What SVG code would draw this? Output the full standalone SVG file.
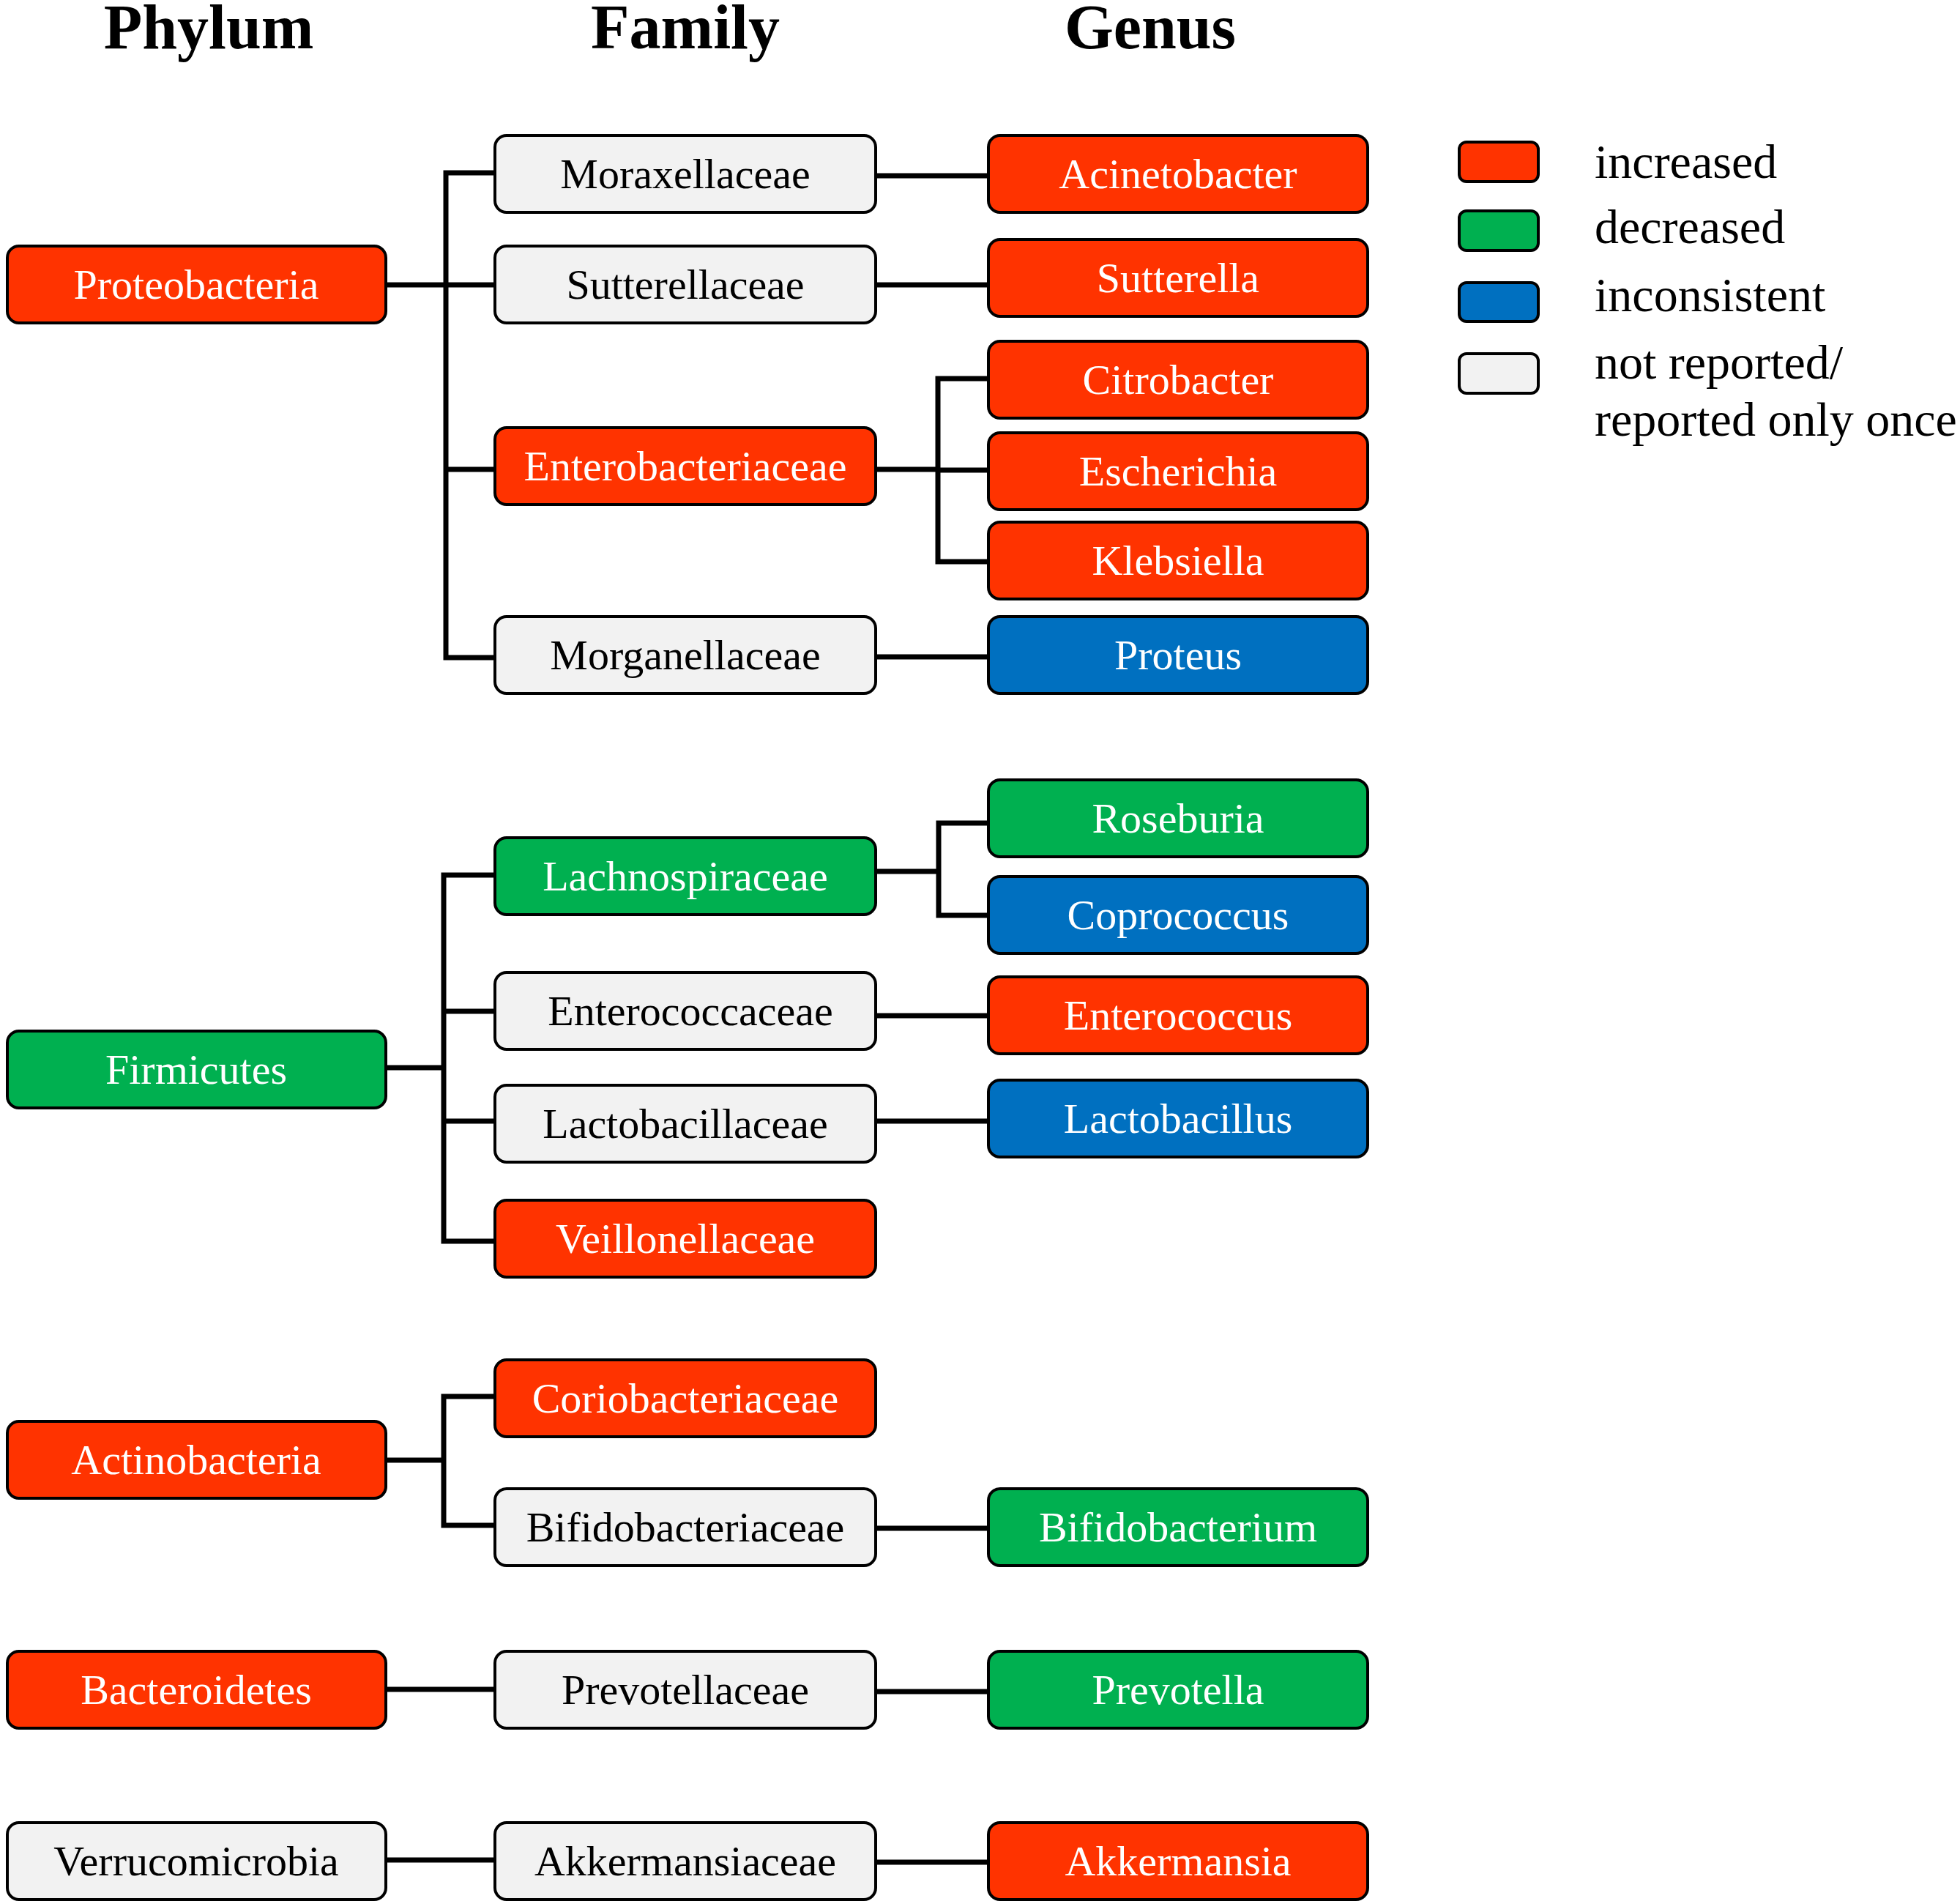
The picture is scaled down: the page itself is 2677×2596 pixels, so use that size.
<svg xmlns="http://www.w3.org/2000/svg" width="2677" height="2596" viewBox="0 0 2677 2596">
<style>
.b{stroke:#000;stroke-width:4}
.r{fill:#FF3300}.g{fill:#00B050}.u{fill:#0070C0}.n{fill:#F2F2F2}
text{font-family:"Liberation Serif","Times New Roman",serif}
.t{font-size:58px;text-anchor:middle}
.w{fill:#fff}.k{fill:#000}
.h{font-size:86px;font-weight:bold;text-anchor:middle}
.lg{font-size:66px}
.c{fill:none;stroke:#000;stroke-width:7;stroke-linejoin:miter}
</style>
<rect width="2677" height="2596" fill="#fff"/>
<g id="headers">
<text class="h" x="285" y="66">Phylum</text>
<text class="h" x="936" y="66">Family</text>
<text class="h" x="1571" y="66">Genus</text>
</g>
<g id="connectors">
<path class="c" d="M527,389H609M676,236H609V898H676M609,389H676M609,641H676"/>
<path class="c" d="M1196,240H1350M1196,389H1350M1196,897H1350"/>
<path class="c" d="M1196,641H1281M1350,517H1281V767H1350M1281,642H1350"/>
<path class="c" d="M527,1458H606M676,1195H606V1695H676M606,1381H676M606,1531H676"/>
<path class="c" d="M1196,1190H1282M1350,1124H1282V1250H1350"/>
<path class="c" d="M1196,1387H1350M1196,1531H1350"/>
<path class="c" d="M527,1994H606M676,1907H606V2083H676M1196,2087H1350"/>
<path class="c" d="M527,2307H676M1196,2310H1350"/>
<path class="c" d="M527,2540H676M1196,2543H1350"/>
</g>
<g id="n-proteobacteria"><rect class="b r" x="10" y="336" width="517" height="105" rx="16"/><text class="t w" x="268" y="408">Proteobacteria</text></g>
<g id="n-moraxellaceae"><rect class="b n" x="676" y="185" width="520" height="105" rx="16"/><text class="t k" x="936" y="257">Moraxellaceae</text></g>
<g id="n-sutterellaceae"><rect class="b n" x="676" y="336" width="520" height="105" rx="16"/><text class="t k" x="936" y="408">Sutterellaceae</text></g>
<g id="n-enterobacteriaceae"><rect class="b r" x="676" y="584" width="520" height="105" rx="16"/><text class="t w" x="936" y="656">Enterobacteriaceae</text></g>
<g id="n-morganellaceae"><rect class="b n" x="676" y="842" width="520" height="105" rx="16"/><text class="t k" x="936" y="914">Morganellaceae</text></g>
<g id="n-acinetobacter"><rect class="b r" x="1350" y="185" width="518" height="105" rx="16"/><text class="t w" x="1609" y="257">Acinetobacter</text></g>
<g id="n-sutterella"><rect class="b r" x="1350" y="327" width="518" height="105" rx="16"/><text class="t w" x="1609" y="399">Sutterella</text></g>
<g id="n-citrobacter"><rect class="b r" x="1350" y="466" width="518" height="105" rx="16"/><text class="t w" x="1609" y="538">Citrobacter</text></g>
<g id="n-escherichia"><rect class="b r" x="1350" y="591" width="518" height="105" rx="16"/><text class="t w" x="1609" y="663">Escherichia</text></g>
<g id="n-klebsiella"><rect class="b r" x="1350" y="713" width="518" height="105" rx="16"/><text class="t w" x="1609" y="785">Klebsiella</text></g>
<g id="n-proteus"><rect class="b u" x="1350" y="842" width="518" height="105" rx="16"/><text class="t w" x="1609" y="914">Proteus</text></g>
<g id="n-firmicutes"><rect class="b g" x="10" y="1408" width="517" height="105" rx="16"/><text class="t w" x="268" y="1480">Firmicutes</text></g>
<g id="n-lachnospiraceae"><rect class="b g" x="676" y="1144" width="520" height="105" rx="16"/><text class="t w" x="936" y="1216">Lachnospiraceae</text></g>
<g id="n-enterococcaceae"><rect class="b n" x="676" y="1328" width="520" height="105" rx="16"/><text class="t k" x="943" y="1400">Enterococcaceae</text></g>
<g id="n-lactobacillaceae"><rect class="b n" x="676" y="1482" width="520" height="105" rx="16"/><text class="t k" x="936" y="1554">Lactobacillaceae</text></g>
<g id="n-veillonellaceae"><rect class="b r" x="676" y="1639" width="520" height="105" rx="16"/><text class="t w" x="936" y="1711">Veillonellaceae</text></g>
<g id="n-roseburia"><rect class="b g" x="1350" y="1065" width="518" height="105" rx="16"/><text class="t w" x="1609" y="1137">Roseburia</text></g>
<g id="n-coprococcus"><rect class="b u" x="1350" y="1197" width="518" height="105" rx="16"/><text class="t w" x="1609" y="1269">Coprococcus</text></g>
<g id="n-enterococcus"><rect class="b r" x="1350" y="1334" width="518" height="105" rx="16"/><text class="t w" x="1609" y="1406">Enterococcus</text></g>
<g id="n-lactobacillus"><rect class="b u" x="1350" y="1475" width="518" height="105" rx="16"/><text class="t w" x="1609" y="1547">Lactobacillus</text></g>
<g id="n-actinobacteria"><rect class="b r" x="10" y="1941" width="517" height="105" rx="16"/><text class="t w" x="268" y="2013">Actinobacteria</text></g>
<g id="n-coriobacteriaceae"><rect class="b r" x="676" y="1857" width="520" height="105" rx="16"/><text class="t w" x="936" y="1929">Coriobacteriaceae</text></g>
<g id="n-bifidobacteriaceae"><rect class="b n" x="676" y="2033" width="520" height="105" rx="16"/><text class="t k" x="936" y="2105">Bifidobacteriaceae</text></g>
<g id="n-bifidobacterium"><rect class="b g" x="1350" y="2033" width="518" height="105" rx="16"/><text class="t w" x="1609" y="2105">Bifidobacterium</text></g>
<g id="n-bacteroidetes"><rect class="b r" x="10" y="2255" width="517" height="105" rx="16"/><text class="t w" x="268" y="2327">Bacteroidetes</text></g>
<g id="n-prevotellaceae"><rect class="b n" x="676" y="2255" width="520" height="105" rx="16"/><text class="t k" x="936" y="2327">Prevotellaceae</text></g>
<g id="n-prevotella"><rect class="b g" x="1350" y="2255" width="518" height="105" rx="16"/><text class="t w" x="1609" y="2327">Prevotella</text></g>
<g id="n-verrucomicrobia"><rect class="b n" x="10" y="2489" width="517" height="105" rx="16"/><text class="t k" x="268" y="2561">Verrucomicrobia</text></g>
<g id="n-akkermansiaceae"><rect class="b n" x="676" y="2489" width="520" height="105" rx="16"/><text class="t k" x="936" y="2561">Akkermansiaceae</text></g>
<g id="n-akkermansia"><rect class="b r" x="1350" y="2489" width="518" height="105" rx="16"/><text class="t w" x="1609" y="2561">Akkermansia</text></g>
<g id="legend">
<rect class="b r" x="1993" y="194" width="108" height="54" rx="10"/>
<rect class="b g" x="1993" y="288" width="108" height="54" rx="10"/>
<rect class="b u" x="1993" y="386" width="108" height="53" rx="10"/>
<rect class="b n" x="1993" y="483" width="108" height="54" rx="10"/>
<text class="lg k" x="2178" y="243">increased</text>
<text class="lg k" x="2178" y="332">decreased</text>
<text class="lg k" x="2178" y="425">inconsistent</text>
<text class="lg k" x="2178" y="517">not reported/</text>
<text class="lg k" x="2178" y="595">reported only once</text>
</g>
</svg>
